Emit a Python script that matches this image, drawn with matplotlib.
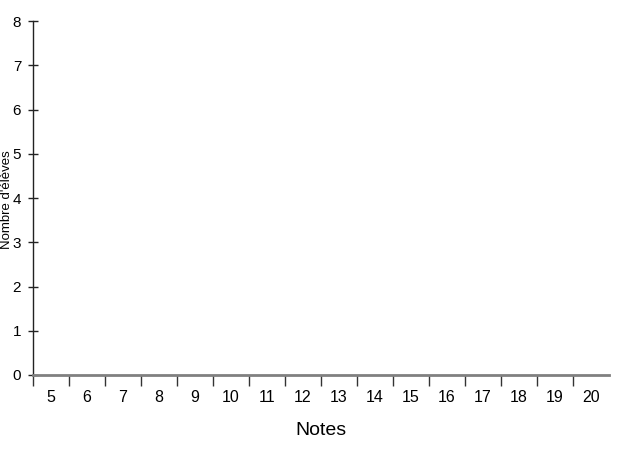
import matplotlib
matplotlib.use("Agg")
import matplotlib.pyplot as plt
import numpy as np

notes = [str(n) for n in range(5, 21)]
y_ticks = [0, 1, 2, 3, 4, 5, 6, 7, 8]
counts = [0] * len(notes)  # empty chart

plt.rcParams['font.family'] = ['Liberation Sans', 'DejaVu Sans']

fig = plt.figure(figsize=(6.4, 4.5), dpi=100)
ax = fig.add_axes([33/640, (450-375)/450, (609-33)/640, (375-21)/450])

ax.set_xlim(0, len(notes))
ax.set_ylim(0, 8)

ax.spines['top'].set_visible(False)
ax.spines['right'].set_visible(False)
ax.spines['left'].set_color('#222222')
ax.spines['left'].set_linewidth(1.0)
ax.spines['bottom'].set_color('#808080')
ax.spines['bottom'].set_linewidth(2.0)

ax.set_yticks(y_ticks)
ax.set_yticklabels([str(v) for v in y_ticks], fontsize=11)
ax.tick_params(axis='y', direction='inout', length=7, width=1, color='#222222', pad=5)

ax.set_xticks(np.arange(0, len(notes)))
ax.set_xticklabels([])
ax.tick_params(axis='x', which='major', direction='out', length=8, width=1, color='#333333')
ax.set_xticks(np.arange(len(notes)) + 0.5, minor=True)
ax.set_xticklabels(notes, minor=True, fontsize=11.5)
ax.tick_params(axis='x', which='minor', length=0, pad=11)

ax.bar(np.arange(len(notes)) + 0.5, counts, width=1.0, color='#4472c4')

ax.set_xlabel('Notes', fontsize=14, labelpad=12)
fig.text(7.5/640, 1 - 200/450, "Nombre d'élèves", rotation=90, fontsize=9.5,
         ha='center', va='center')

fig.savefig('out.png', dpi=100)
